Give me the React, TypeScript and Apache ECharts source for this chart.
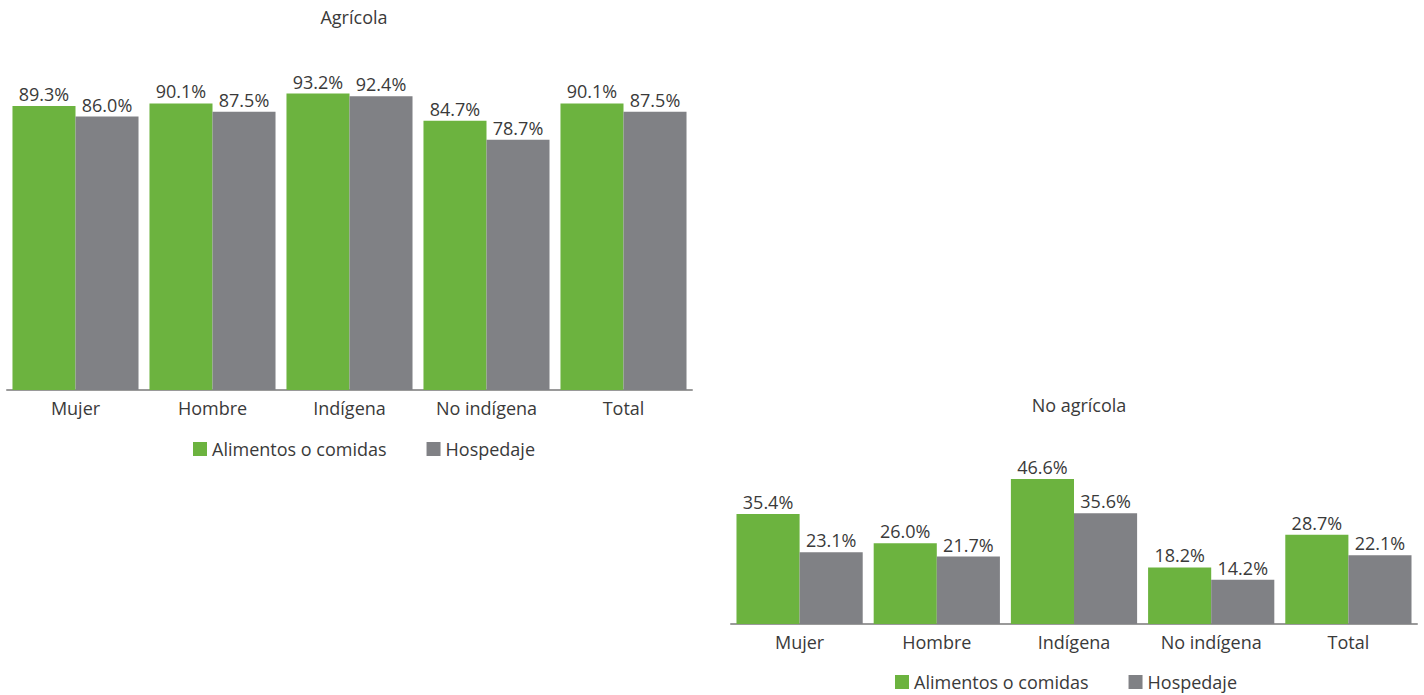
import React, { useEffect, useRef } from "react";
import * as echarts from "echarts";

const categories = ["Mujer", "Hombre", "Indígena", "No indígena", "Total"];
const seriesNames = ["Alimentos o comidas", "Hospedaje"];
const agricolaAlimentos = [89.3, 90.1, 93.2, 84.7, 90.1];
const agricolaHospedaje = [86.0, 87.5, 92.4, 78.7, 87.5];
const noAgricolaAlimentos = [35.4, 26.0, 46.6, 18.2, 28.7];
const noAgricolaHospedaje = [23.1, 21.7, 35.6, 14.2, 22.1];
const titles = ["Agrícola", "No agrícola"];

const GREEN = "#6cb33f";
const GREY = "#808185";
const TEXT = "#3a3a3a";
const FONT = "Open Sans";

export default function App() {
  const ref = useRef<HTMLDivElement>(null);
  useEffect(() => {
    if (!ref.current) return;
    const chart = echarts.init(ref.current, null, { renderer: "svg" });
    const label = {
      show: true,
      position: "top",
      distance: 3,
      color: TEXT,
      fontFamily: FONT,
      fontSize: 18,
      formatter: (p: any) => p.value.toFixed(1) + "%",
    };
    const mkSeries = (name: string, data: number[], color: string, idx: number) => ({
      type: "bar",
      name,
      data,
      xAxisIndex: idx,
      yAxisIndex: idx,
      barGap: "0%",
      barCategoryGap: "8%",
      itemStyle: { color },
      label,
    });
    const xAxis = (idx: number) => ({
      type: "category",
      gridIndex: idx,
      data: categories,
      axisLine: { lineStyle: { color: "#9a9a9a", width: 2 } },
      axisTick: { show: false },
      axisLabel: { color: TEXT, fontFamily: FONT, fontSize: 18, margin: 9 },
    });
    const yAxis = (idx: number) => ({
      type: "value",
      gridIndex: idx,
      min: 0,
      max: 100,
      show: false,
    });
    const legend = (left: number, top: number) => ({
      left,
      top,
      itemWidth: 14,
      itemHeight: 14,
      itemGap: 40,
      icon: "rect",
      data: seriesNames,
      textStyle: { color: TEXT, fontFamily: FONT, fontSize: 18 },
      selectedMode: false,
    });
    chart.setOption({
      animation: false,
      title: [
        {
          text: titles[0],
          left: 349,
          textAlign: "center",
          top: 3,
          textStyle: { color: TEXT, fontFamily: FONT, fontSize: 18, fontWeight: "normal" },
        },
        {
          text: titles[1],
          left: 1074,
          textAlign: "center",
          top: 391,
          textStyle: { color: TEXT, fontFamily: FONT, fontSize: 18, fontWeight: "normal" },
        },
      ],
      legend: [legend(188, 435), legend(890, 668)],
      grid: [
        { left: 7, top: 72, width: 685, height: 318 },
        { left: 731, top: 313, width: 686, height: 311 },
      ],
      xAxis: [xAxis(0), xAxis(1)],
      yAxis: [yAxis(0), yAxis(1)],
      series: [
        mkSeries(seriesNames[0], agricolaAlimentos, GREEN, 0),
        mkSeries(seriesNames[1], agricolaHospedaje, GREY, 0),
        mkSeries(seriesNames[0], noAgricolaAlimentos, GREEN, 1),
        mkSeries(seriesNames[1], noAgricolaHospedaje, GREY, 1),
      ],
    });
    return () => chart.dispose();
  }, []);
  return (
    <div
      ref={ref}
      style={{ position: "fixed", left: 0, top: 0, width: 1424, height: 695, background: "#fff" }}
    />
  );
}
